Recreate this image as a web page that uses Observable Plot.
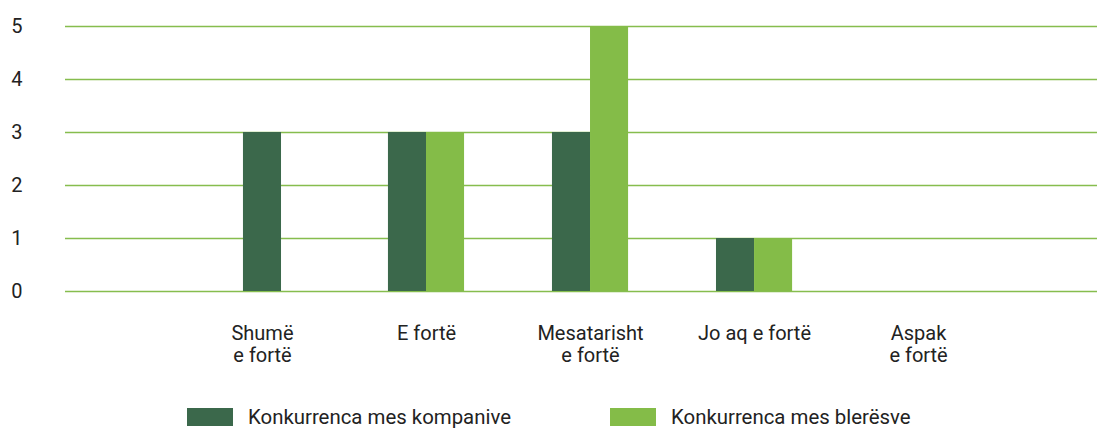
<!DOCTYPE html>
<html>
<head>
<meta charset="utf-8">
<script src="https://cdn.jsdelivr.net/npm/d3@7"></script>
<script src="https://cdn.jsdelivr.net/npm/@observablehq/plot@0.6"></script>
<style>
  html, body { margin: 0; padding: 0; background: #fff; }
  body { width: 1097px; height: 429px; overflow: hidden; font-family: Roboto, "Noto Sans", sans-serif; color: #222; }
  #legend { position: relative; height: 34px; }
  .item { position: absolute; top: 10px; display: flex; align-items: center; font-size: 20.4px; color: #222; }
  .sw { width: 46px; height: 18px; margin-right: 15px; }
</style>
</head>
<body>
<div id="chart"></div>
<div id="legend"></div>
<script>
const categories = ["Shumë\ne fortë", "E fortë", "Mesatarisht\ne fortë", "Jo aq e fortë", "Aspak\ne fortë"];
const series = ["Konkurrenca mes kompanive", "Konkurrenca mes blerësve"];
const kompanive = [3, 3, 3, 1, 0];
const bleresve = [0, 3, 5, 1, 0];
const colors = ["#3b684b", "#84bc48"];
const yTicks = [0, 1, 2, 3, 4, 5];

const barW = 0.232; // bar width in category units
const rows = [];
categories.forEach((c, i) => {
  const vals = [kompanive[i], bleresve[i]];
  const present = series.map((s, k) => ({s, v: vals[k]})).filter(d => d.v > 0);
  const n = present.length;
  present.forEach((d, k) => {
    const x1 = i + (k - n / 2) * barW;
    rows.push({category: c, series: d.s, value: d.v, x1, x2: x1 + barW});
  });
});

const chart = Plot.plot({
  width: 1097,
  height: 395,
  marginLeft: 65,
  marginRight: 0,
  marginTop: 26,
  marginBottom: 104,
  style: {fontFamily: "Roboto, 'Noto Sans', sans-serif", color: "#222", background: "#fff"},
  x: {type: "linear", domain: [-1.201, 5.091]},
  y: {domain: [0, 5]},
  color: {domain: series, range: colors},
  marks: [
    Plot.ruleY(yTicks, {stroke: "#86bd4e", strokeWidth: 1.4}),
    Plot.rectY(rows, {x1: "x1", x2: "x2", y1: 0, y2: "value", fill: "series"}),
    Plot.axisY({ticks: yTicks, tickFormat: d3.format("d"), tickSize: 0, tickPadding: 43, fontSize: 20, label: null}),
    Plot.axisX({ticks: categories.map((d, i) => i), tickFormat: i => categories[i], tickSize: 0, tickPadding: 33, fontSize: 20, lineHeight: 1.1, label: null})
  ]
});
document.getElementById("chart").appendChild(chart);

const legend = document.getElementById("legend");
const lefts = [187, 610];
series.forEach((s, k) => {
  const it = document.createElement("div");
  it.className = "item";
  it.style.left = lefts[k] + "px";
  const sw = document.createElement("div");
  sw.className = "sw";
  sw.style.background = colors[k];
  const tx = document.createElement("span");
  tx.textContent = s;
  it.appendChild(sw);
  it.appendChild(tx);
  legend.appendChild(it);
});
</script>
</body>
</html>
